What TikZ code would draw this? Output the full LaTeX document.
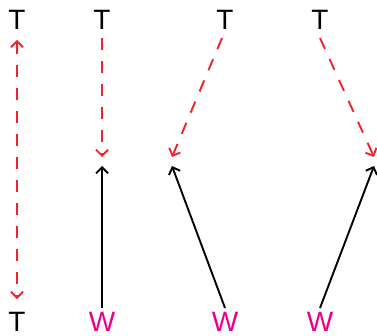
\documentclass[tikz,border=0pt]{standalone}
\usepackage{fontspec}
\setmainfont{Liberation Sans}
\usetikzlibrary{arrows.meta}
\definecolor{myred}{RGB}{240,35,45}
\definecolor{mymag}{RGB}{232,0,140}
\begin{document}
\begin{tikzpicture}[x=1pt,y=1pt,
  lbl/.style={font=\fontsize{28}{28}\selectfont, inner sep=0pt, anchor=center},
  tlbl/.style={lbl, text=black},
  wlbl/.style={lbl, text=mymag},
  tip/.style={-{Straight Barb[length=6pt,width=12pt,line width=1.9pt]}},
  rdash/.style={tip, draw=myred, line width=1.9pt, dash pattern=on 12pt off 11pt},
  blk/.style={tip, draw=black, line width=1.9pt}]
\useasboundingbox (0,0) rectangle (377,335);
\node[tlbl] (t1) at (17,315) {T};
\node[tlbl] (t2) at (102,315) {T};
\node[tlbl] (t3) at (225,315) {T};
\node[tlbl] (t4) at (320,315) {T};
\node[tlbl] (b1) at (17,13) {T};
\node[wlbl] (w2) at (102,13) {W};
\node[wlbl] (w3) at (225,13) {W};
\node[wlbl] (w4) at (320,13) {W};
\coordinate (e2) at (102,178);
\coordinate (e3) at (172,178);
\coordinate (e4) at (374,178);
\coordinate (f2) at (102,169);
\coordinate (f3) at (172,169);
\coordinate (f4) at (374,169);
\coordinate (s1) at (17,295);
\coordinate (s2) at (102,297);
\coordinate (s3) at (222,297);
\coordinate (s4) at (320,297);
\coordinate (u1) at (17,36);
\draw[rdash, {Straight Barb[length=6pt,width=12pt,line width=1.9pt]}-{Straight Barb[length=6pt,width=12pt,line width=1.9pt]}] (s1) -- (u1);
\draw[rdash] (s2) -- (e2);
\draw[rdash] (s3) -- (e3);
\draw[rdash] (s4) -- (e4);
\coordinate (v2) at (102,27);
\coordinate (v3) at (225,27);
\coordinate (v4) at (320,27);
\draw[blk] (v2) -- (f2);
\draw[blk] (v3) -- (f3);
\draw[blk] (v4) -- (f4);
\end{tikzpicture}
\end{document}
